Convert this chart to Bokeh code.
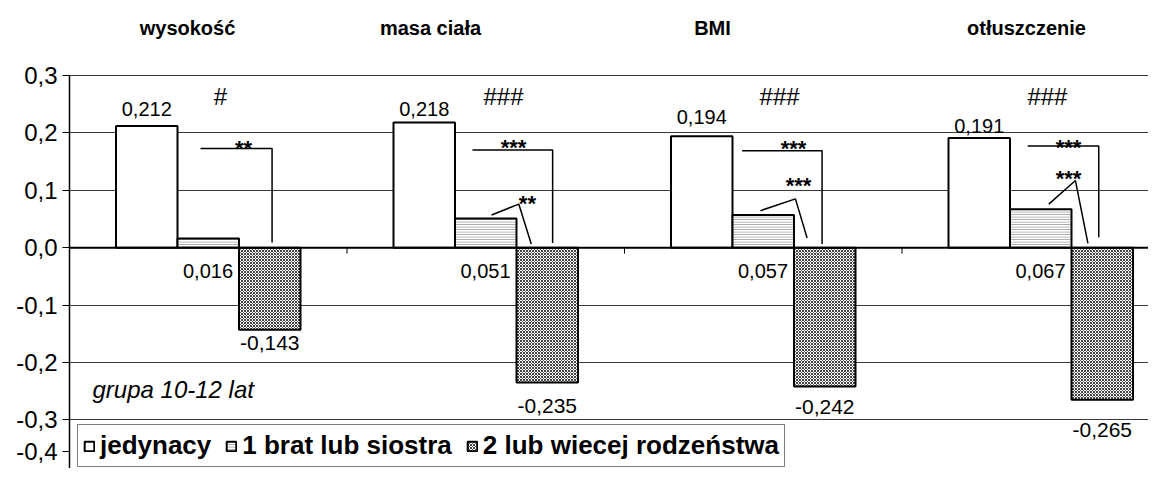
import numpy as np
from bokeh.plotting import figure
from bokeh.models import (Range1d, FixedTicker, CustomJSTickFormatter, LinearAxis, Legend,
                          LegendItem, Grid, Span)
from bokeh.core.properties import value
from bokeh.embed import file_html
from bokeh.resources import INLINE

# ---------------- data ----------------
categories = ["wysokość", "masa ciała", "BMI", "otłuszczenie"]
series_names = ["jedynacy", "1 brat lub siostra", "2 lub wiecej rodzeństwa"]
jedynacy = [0.212, 0.218, 0.194, 0.191]
brat_siostra = [0.016, 0.051, 0.057, 0.067]
wiecej = [-0.143, -0.235, -0.242, -0.265]
y_ticks = [-0.3, -0.2, -0.1, 0.0, 0.1, 0.2, 0.3]
y_bottom_tick = -0.4
group_marks = ["#", "###", "###", "###"]
subtitle = "grupa 10-12 lat"

# significance brackets (x in category units, y in value units)
bracket_big_x = [[0.472, 0.730, 0.730], [1.452, 1.741, 1.741], [2.424, 2.712, 2.712], [3.453, 3.709, 3.709]]
bracket_big_y = [[0.173, 0.173, 0.009], [0.170, 0.170, 0.008], [0.169, 0.169, 0.0064], [0.177, 0.177, 0.018]]
bracket_big_txt = ["**", "***", "***", "***"]
bracket_big_tx = [0.627, 1.600, 2.609, 3.600]
bracket_small_x = [[1.521, 1.619, 1.664], [2.490, 2.616, 2.658], [3.529, 3.625, 3.670]]
bracket_small_y = [[0.057, 0.076, 0.0064], [0.0645, 0.085, 0.017], [0.076, 0.117, 0.0075]]
bracket_small_txt = ["**", "***", "***"]
bracket_small_tx = [1.650, 2.627, 3.600]
group_mark_x = [0.544, 1.564, 2.559, 3.524]

# ---------------- layout ----------------
W, H = 1148, 468
LEFT = 69                      # frame left edge (px)
TOP_03 = 75                    # pixel row of value 0.3
PXX = 277.5                    # pixels per category
PXY = 574.0                    # pixels per value unit
X_END = (W - LEFT) / PXX
Y_END = 0.3 + TOP_03 / PXY
Y_START = 0.3 - (H - TOP_03) / PXY

def X(px):
    return (px - LEFT) / PXX

def Y(py):
    return 0.3 - (py - TOP_03) / PXY

FONT = "Liberation Sans"

p = figure(width=W, height=H, output_backend="svg", toolbar_location=None,
           x_range=Range1d(0, X_END), y_range=Range1d(Y_START, Y_END),
           min_border_left=LEFT, min_border_right=0, min_border_top=0, min_border_bottom=0,
           x_axis_location=None, y_axis_location=None)
p.outline_line_color = None
p.background_fill_color = "white"
p.border_fill_color = "white"
for g in p.grid:
    g.visible = False

grid = Grid(dimension=1, ticker=FixedTicker(ticks=y_ticks), grid_line_color="#3a3a3a", grid_line_width=1)
p.add_layout(grid)

# the -0,4 row lies on the window's bottom edge; its label is lifted just inside it
bottom_label_pos = Y(451)
yaxis = LinearAxis(ticker=FixedTicker(ticks=y_ticks + [bottom_label_pos]), bounds=(Y_START, 0.3),
                   formatter=CustomJSTickFormatter(
                       args=dict(lim=bottom_label_pos + 0.01, low=y_bottom_tick),
                       code="const t = tick < lim ? low : tick; return t.toFixed(1).replace('.', ',');"))
yaxis.axis_line_color = "black"
yaxis.axis_line_width = 1.5
yaxis.major_tick_line_color = "black"
yaxis.major_tick_out = 7
yaxis.major_tick_in = 0
yaxis.minor_tick_line_color = None
yaxis.major_label_standoff = 5
yaxis.major_label_text_font = FONT
yaxis.major_label_text_font_size = "24px"
yaxis.major_label_text_color = "black"
p.add_layout(yaxis, "left")

# zero (category) axis line
p.add_layout(Span(location=0, dimension="width", line_color="black", line_width=2))

xc = np.arange(len(categories)) + 0.5
w = 61.5 / PXX

# category tick marks below the zero line
bx = np.arange(1, len(categories))
p.segment(x0=bx, y0=np.zeros(len(bx)), x1=bx, y1=np.full(len(bx), -6 / PXY), line_color="black", line_width=1)

r1 = p.vbar(x=xc - w, top=jedynacy, bottom=0, width=w, fill_color="white",
            line_color="black", line_width=2)
r2 = p.vbar(x=xc, top=brat_siostra, bottom=0, width=w, fill_color="white",
            hatch_pattern="horizontal_line", hatch_scale=2.5, hatch_color="#9a9a9a", hatch_weight=1,
            line_color="black", line_width=2)
r3 = p.vbar(x=xc + w, top=wiecej, bottom=0, width=w, fill_color="white",
            hatch_pattern="diagonal_cross", hatch_scale=3, hatch_color="#444444", hatch_weight=1,
            line_color="black", line_width=2)

def fmt(v):
    return f"{v:.3f}".replace(".", ",")

# label centres: pixel distance from the bar end
top_gap_px = [17, 13.5, 19, 12.5]
neg_gap_px = [13, 23, 20, 30]
MID_LABEL_ROW = 270

p.text(x=list(xc - w), y=[v + g / PXY for v, g in zip(jedynacy, top_gap_px)],
       text=[fmt(v) for v in jedynacy], text_align="center", text_baseline="middle",
       text_font=value(FONT), text_font_size="20px", text_color="black")
p.text(x=list(xc + w / 2 - 6 / PXX), y=[Y(MID_LABEL_ROW)] * len(categories),
       text=[fmt(v) for v in brat_siostra], text_align="right", text_baseline="middle",
       text_font=value(FONT), text_font_size="20px", text_color="black")
p.text(x=list(xc + w), y=[v - g / PXY for v, g in zip(wiecej, neg_gap_px)],
       text=[fmt(v) for v in wiecej], text_align="center", text_baseline="middle",
       text_font=value(FONT), text_font_size="21px", text_color="black")

# significance marks
p.text(x=group_mark_x, y=[Y(96)] * 4, text=group_marks, text_align="center",
       text_baseline="middle", text_font=value(FONT), text_font_size="24px", text_color="black")
p.multi_line(xs=bracket_big_x, ys=bracket_big_y, line_color="black", line_width=1.5)
p.multi_line(xs=bracket_small_x, ys=bracket_small_y, line_color="black", line_width=1.5)
p.text(x=bracket_big_tx, y=[Y(148), Y(147), Y(148), Y(147)], text=bracket_big_txt, text_align="center",
       text_baseline="middle", text_font=value(FONT), text_font_size="22px",
       text_font_style="bold", text_color="black")
p.text(x=bracket_small_tx, y=[Y(203), Y(185), Y(178)], text=bracket_small_txt, text_align="center",
       text_baseline="middle", text_font=value(FONT), text_font_size="22px",
       text_font_style="bold", text_color="black")

# group titles
title_x = [X(187), X(430), X(712), X(1026)]
p.text(x=title_x, y=[Y(27)] * 4, text=categories, text_align="center",
       text_baseline="middle", text_font=value(FONT), text_font_size="20px",
       text_font_style="bold", text_color="black")

# subtitle
p.text(x=[X(92)], y=[Y(389)], text=[subtitle], text_align="left",
       text_baseline="middle", text_font=value(FONT), text_font_size="24px",
       text_font_style="italic", text_color="black")

legend = Legend(items=[LegendItem(label=n, renderers=[r]) for n, r in zip(series_names, [r1, r2, r3])],
                orientation="horizontal", location=(8, 1))
legend.border_line_color = "black"
legend.border_line_width = 1.5
legend.background_fill_color = "white"
legend.background_fill_alpha = 1
legend.label_text_font = FONT
legend.label_text_font_size = "26px"
legend.label_text_font_style = "bold"
legend.label_text_color = "black"
legend.glyph_width = 12
legend.glyph_height = 12
legend.label_standoff = 5
legend.spacing = 14
legend.padding = 5
legend.margin = 0
p.add_layout(legend)

open("out.html", "w").write(file_html(p, INLINE))
